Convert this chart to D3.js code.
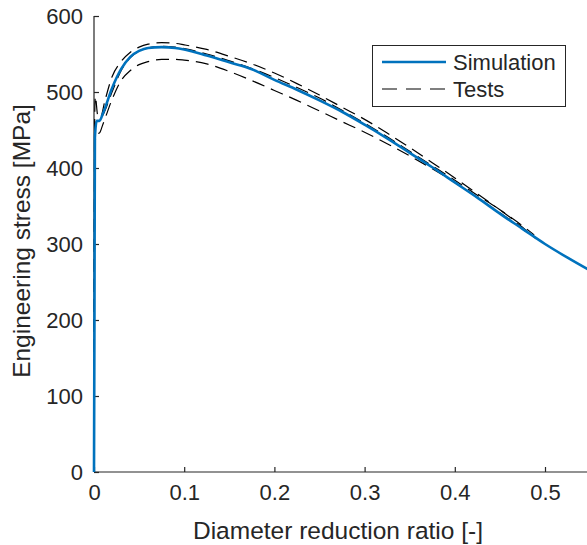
<!DOCTYPE html>
<html lang="en">
<head>
<meta charset="utf-8">
<script src="https://cdn.jsdelivr.net/npm/d3@7"></script>
<style>
    body { margin: 0; background: #fff; }
    svg text { font-family: "Liberation Sans", Arial, Helvetica, sans-serif; fill: #262626; }
</style>
</head>
<body>
<div id="chart"></div>
<script>
    // diameter reduction ratio / engineering stress
    const simX = [0, 0.0005, 0.001, 0.003, 0.006, 0.01, 0.02, 0.03, 0.04, 0.05, 0.06, 0.075, 0.09, 0.1, 0.125, 0.15, 0.175, 0.2, 0.225, 0.25, 0.275, 0.3, 0.325, 0.35, 0.375, 0.4, 0.425, 0.45, 0.475, 0.5, 0.525, 0.55];
    const simY = [0, 200, 440, 462, 462, 472, 505, 530, 546, 554, 558, 559, 558, 556, 548, 539, 530, 516, 503, 489, 474, 457, 439, 420, 401, 381, 361, 340, 320, 300, 282, 265];

    const test1X = [0, 0.0008, 0.0015, 0.004, 0.007, 0.012, 0.02, 0.03, 0.04, 0.05, 0.06, 0.075, 0.09, 0.1, 0.125, 0.15, 0.175, 0.2, 0.225, 0.25, 0.275, 0.3, 0.325, 0.35, 0.375, 0.4, 0.425, 0.45, 0.475, 0.488];
    const test1Y = [0, 470, 494, 470, 466, 488, 520, 540, 552, 559, 563, 565, 564, 562, 556, 547, 537, 525, 511, 496, 480, 464, 446, 427, 407, 387, 366, 345, 324, 312];

    const test2X = [0, 0.001, 0.003, 0.006, 0.01, 0.02, 0.03, 0.04, 0.05, 0.06, 0.075, 0.09, 0.1, 0.125, 0.15, 0.175, 0.2, 0.225, 0.25, 0.275, 0.3, 0.325, 0.35, 0.375, 0.4, 0.425, 0.45, 0.475, 0.49];
    const test2Y = [0, 450, 462, 463, 470, 500, 528, 545, 554, 558, 560, 559, 557, 550, 541, 531, 519, 506, 492, 476, 459, 441, 422, 403, 384, 364, 345, 322, 307];

    const test3X = [0, 0.001, 0.003, 0.006, 0.01, 0.02, 0.03, 0.04, 0.05, 0.06, 0.075, 0.09, 0.1, 0.125, 0.15, 0.175, 0.2, 0.225, 0.25, 0.275, 0.3, 0.325, 0.35, 0.375, 0.4, 0.425, 0.45, 0.475, 0.482];
    const test3Y = [0, 430, 445, 446, 458, 490, 515, 528, 536, 540, 543, 543, 542, 537, 527, 515, 502, 489, 475, 461, 447, 432, 416, 399, 381, 361, 341, 320, 313];

    const xTicks = [0, 0.1, 0.2, 0.3, 0.4, 0.5];
    const yTicks = [0, 100, 200, 300, 400, 500, 600];
    const legendLabels = ["Simulation", "Tests"];

    const width = 587, height = 545;
    const margin = {left: 94, top: 16, bottom: 73};
    const axisColor = '#262626';
    const blue = '#0072bd';

    const svg = d3.select('#chart').append('svg')
        .attr('width', width).attr('height', height);

    const x = d3.scaleLinear().domain([0, 0.55]).range([margin.left, margin.left + 0.55 * 902]);
    const y = d3.scaleLinear().domain([0, 600]).range([height - margin.bottom, margin.top]);

    const zip = (xs, ys) => xs.map((v, i) => [v, ys[i]]);
    const line = d3.line().x(d => x(d[0])).y(d => y(d[1])).curve(d3.curveMonotoneX);

    // axes, ticks pointing inward like matlab
    const xAxis = svg.append('g')
        .attr('transform', `translate(0,${y(0)})`)
        .call(d3.axisBottom(x).tickValues(xTicks).tickSize(-5).tickPadding(12)
            .tickFormat(d => d === 0 ? '0' : d3.format('.1f')(d)));
    const yAxis = svg.append('g')
        .attr('transform', `translate(${x(0)},0)`)
        .call(d3.axisLeft(y).tickValues(yTicks).tickSize(-5).tickPadding(11));

    [xAxis, yAxis].forEach(g => {
        g.select('.domain').attr('stroke', axisColor).attr('stroke-width', 1.2);
        g.selectAll('.tick line').attr('stroke', axisColor).attr('stroke-width', 1.2);
        g.selectAll('.tick text').attr('font-size', 22).attr('fill', axisColor);
    });
    xAxis.select('.domain').attr('d', `M${x(0)},0H${width + 5}`);
    yAxis.select('.domain').attr('d', `M0,${y(600)}V${y(0)}`);

    svg.append('text')
        .attr('x', 338)
        .attr('y', 539)
        .attr('text-anchor', 'middle')
        .attr('font-size', 24.5)
        .text('Diameter reduction ratio [-]');

    svg.append('text')
        .attr('transform', `translate(30,241) rotate(-90)`)
        .attr('text-anchor', 'middle')
        .attr('font-size', 24.5)
        .text('Engineering stress [MPa]');

    // test curves
    const tests = [zip(test1X, test1Y), zip(test2X, test2Y), zip(test3X, test3Y)];
    svg.append('g').selectAll('path')
        .data(tests)
        .enter()
        .append('path')
        .attr('d', line)
        .attr('fill', 'none')
        .attr('stroke', '#000')
        .attr('stroke-width', 1.2)
        .attr('stroke-dasharray', '13 7');

    svg.append('path')
        .attr('d', line(zip(simX, simY)))
        .attr('fill', 'none')
        .attr('stroke', blue)
        .attr('stroke-width', 2.6);

    // legend
    const legend = svg.append('g');
    legend.append('rect')
        .attr('x', 372.5).attr('y', 45.5)
        .attr('width', 193).attr('height', 61)
        .attr('fill', '#fff')
        .attr('stroke', axisColor)
        .attr('stroke-width', 1);
    const rows = legend.selectAll('g.row')
        .data(legendLabels)
        .enter()
        .append('g')
        .attr('class', 'row')
        .attr('transform', (d, i) => `translate(0,${62 + i * 27})`);
    rows.append('line')
        .attr('x1', 382).attr('x2', 446)
        .attr('stroke', (d, i) => i === 0 ? blue : '#000')
        .attr('stroke-width', (d, i) => i === 0 ? 2.6 : 1.2)
        .attr('stroke-dasharray', (d, i) => i === 0 ? null : '15 9');
    rows.append('text')
        .attr('x', 453)
        .attr('y', 8)
        .attr('font-size', 22)
        .attr('fill', '#000')
        .text(d => d);
</script>
</body>
</html>
